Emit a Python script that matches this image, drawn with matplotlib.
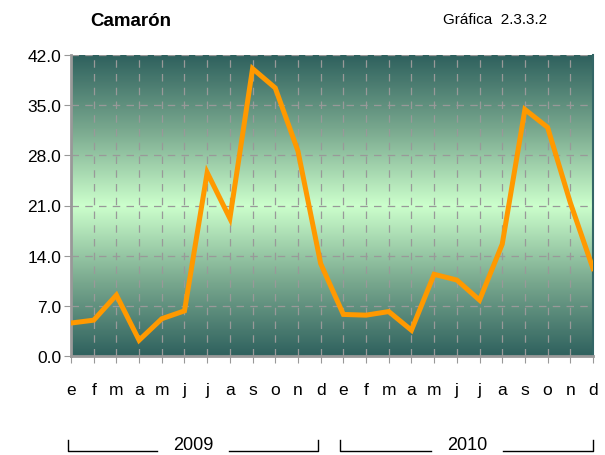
import numpy as np
import matplotlib.pyplot as plt
from matplotlib.colors import LinearSegmentedColormap

plt.rcParams['font.family'] = ['Liberation Sans', 'DejaVu Sans']

meses = ['e', 'f', 'm', 'a', 'm', 'j', 'j', 'a', 's', 'o', 'n', 'd'] * 2
valores = [4.6, 5.0, 8.5, 2.2, 5.2, 6.3, 25.6, 19.2, 40.1, 37.4, 28.6, 12.9,
           5.8, 5.7, 6.2, 3.6, 11.4, 10.6, 7.8, 15.6, 34.4, 31.9, 21.4, 12.2]
anios = ['2009', '2010']
yticks = [0, 7, 14, 21, 28, 35, 42]

fig = plt.figure(figsize=(6.05, 4.56), dpi=100)
ax = fig.add_axes([71 / 605, 1 - 357 / 456, 522 / 605, 301 / 456])

x = np.arange(len(valores))

# fondo degradado vertical
cmap = LinearSegmentedColormap.from_list(
    'fondo', [(0.0, '#2f615e'), (0.25, '#7aa98f'), (0.5, '#ccffcc'),
              (0.75, '#7aa98f'), (1.0, '#2f615e')])
grad = np.linspace(0, 1, 256).reshape(-1, 1)
ax.imshow(grad, cmap=cmap, aspect='auto', extent=[0, 23, 0, 42],
          origin='lower', zorder=0)

ax.plot(x, valores, color='#ff9900', lw=3.6, zorder=3, solid_joinstyle='miter')

ax.set_xlim(0, 23)
ax.set_ylim(0, 42)
ax.set_yticks(yticks)
ax.set_yticklabels([f'{v:.1f}' for v in yticks], fontsize=12.5)
ax.set_xticks(x)
ax.set_xticklabels(meses, fontsize=12.5)
ax.tick_params(axis='x', length=5, color='#999999', pad=14)
ax.tick_params(axis='y', length=5, color='#999999', pad=2)
ax.grid(True, color='#999999', ls=(0, (6, 5)), lw=0.9, zorder=1)

for lado in ['left', 'bottom']:
    ax.spines[lado].set_color('#999999')
    ax.spines[lado].set_linewidth(2)
ax.spines['top'].set_visible(False)
ax.spines['right'].set_color('#336666')
ax.spines['right'].set_linewidth(1.5)

# años con corchetes
yb = 1 - 452 / 456
yt = 1 - 441 / 456
ylab = 1 - 446 / 456
for x0, x1, xt, anio in [(68, 318, 193, anios[0]), (340, 593, 467, anios[1])]:
    a, b, c = x0 / 605, x1 / 605, xt / 605
    fig.lines.append(plt.Line2D([a, a, c - 0.06], [yt, yb, yb], color='black',
                                lw=1, transform=fig.transFigure))
    fig.lines.append(plt.Line2D([c + 0.06, b, b], [yb, yb, yt], color='black',
                                lw=1, transform=fig.transFigure))
    fig.text(c, ylab, anio, ha='center', va='center', fontsize=13)

fig.text(90 / 605, 1 - 22 / 456, 'Camarón', fontsize=13.5, fontweight='bold',
         va='center')
fig.text(443 / 605, 1 - 20 / 456, 'Gráfica  2.3.3.2', fontsize=11, va='center')

fig.savefig('out.png', dpi=100)
